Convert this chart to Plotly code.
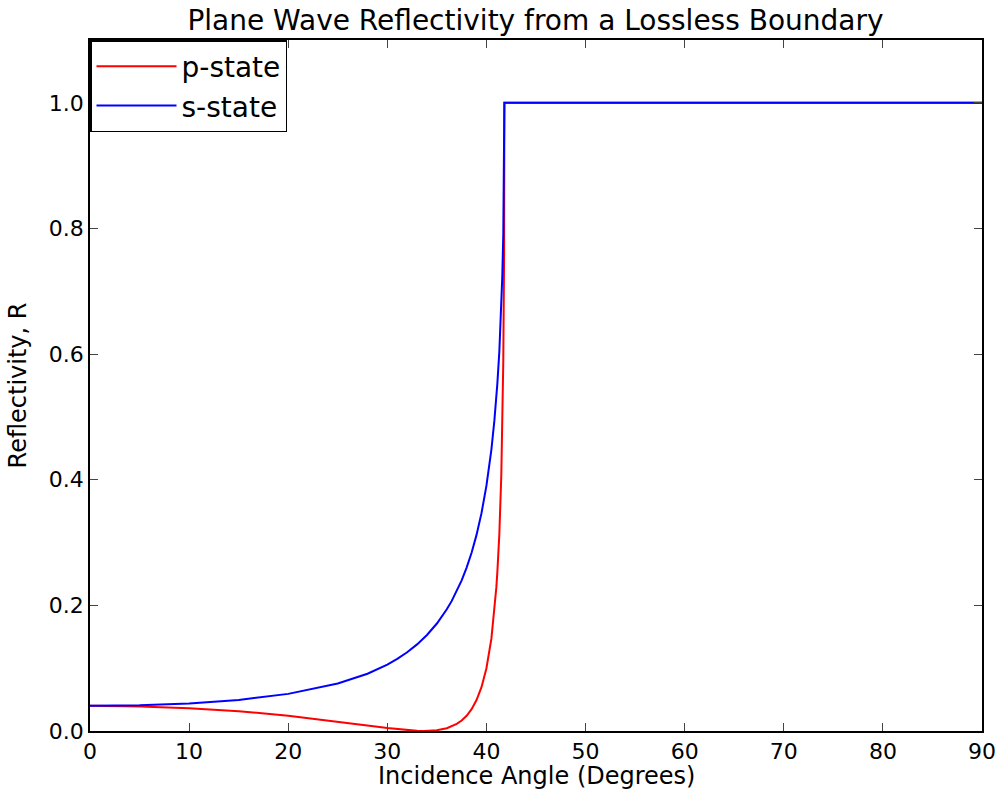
import plotly.graph_objects as go

# incidence angle (degrees)
angle = [0, 5, 10, 15, 20, 25, 28, 29, 30, 31, 32, 33, 33.7, 34, 35, 36, 36.5, 37, 37.5,
         38, 38.5, 39, 39.5, 40, 40.5, 40.8, 41, 41.1, 41.3, 41.5, 41.6, 41.7, 41.78,
         41.81, 42, 50, 60, 70, 80, 90]

r_p = [0.040, 0.0391, 0.0363, 0.0315, 0.0244, 0.0151, 0.0087, 0.0066, 0.0046, 0.0028,
       0.0013, 0.0002, 0.0, 0.0001, 0.0012, 0.0045, 0.0073, 0.0113, 0.0168,
       0.0243, 0.0347, 0.0492, 0.0698, 0.100, 0.147, 0.190, 0.229, 0.253, 0.313, 0.408,
       0.480, 0.589, 0.758,
       1.0, 1.0, 1.0, 1.0, 1.0, 1.0, 1.0]

r_s = [0.040, 0.0409, 0.0439, 0.0495, 0.0591, 0.0755, 0.0912, 0.098, 0.1058, 0.1148,
       0.1254, 0.1379, 0.1479, 0.1529, 0.1711, 0.1937, 0.2071, 0.2223, 0.2398,
       0.2601, 0.2838, 0.3122, 0.3468, 0.3905, 0.448, 0.494, 0.531, 0.553, 0.604, 0.675,
       0.724, 0.791, 0.884,
       1.0, 1.0, 1.0, 1.0, 1.0, 1.0, 1.0]

fig = go.Figure()
fig.add_trace(go.Scatter(x = angle, y = r_p, mode = 'lines', name = 'p-state', legendgroup = 'p',
                         line = dict(color = 'red', width = 2)))
fig.add_trace(go.Scatter(x = angle, y = r_s, mode = 'lines', name = 's-state', legendgroup = 's',
                         line = dict(color = 'blue', width = 2)))

fig.update_layout(
    width = 1002,
    height = 792,
    margin = dict(l = 90, r = 20, t = 40, b = 61),
    font = dict(family = 'DejaVu Sans', color = 'black', size = 20),
    title = dict(text = 'Plane Wave Reflectivity from a Lossless Boundary',
                 x = 0.5344, xanchor = 'center', y = 0.975, yanchor = 'middle',
                 font = dict(size = 28)),
    yaxis_title = 'Reflectivity, R',
    plot_bgcolor = 'white',
    paper_bgcolor = 'white',
    legend = dict(x = 0, y = 1, xanchor = 'left', yanchor = 'top',
                  bordercolor = 'black', borderwidth = 1.5, bgcolor = 'white',
                  font = dict(size = 28), tracegroupgap = 0, itemwidth = 80)
)

# x title as an annotation so it sits below the tick labels with fixed margins
fig.add_annotation(text = 'Incidence Angle (Degrees)', xref = 'paper', yref = 'paper',
                   x = 0.5, y = -0.065, xanchor = 'center', yanchor = 'middle',
                   showarrow = False, font = dict(size = 24))

fig.update_xaxes(
    range = [0, 90],
    dtick = 10,
    tickfont = dict(size = 22),
    ticklabeloverflow = 'allow',
    mirror = 'allticks',
    ticks = 'inside',
    ticklen = 8,
    showline = True,
    linecolor = 'black',
    linewidth = 1.5,
    showgrid = False,
    zeroline = False,
    automargin = False
)
fig.update_yaxes(
    range = [0, 1.1],
    tickvals = [0, 0.2, 0.4, 0.6, 0.8, 1.0],
    tickformat = '.1f',
    tickfont = dict(size = 22),
    mirror = 'allticks',
    ticks = 'inside',
    ticklen = 8,
    showline = True,
    linecolor = 'black',
    linewidth = 1.5,
    showgrid = False,
    zeroline = False,
    automargin = False
)

# drop the default body margin so the figure fills the window exactly
fig.write_html('out.html', config = dict(displayModeBar = False),
               post_script = "document.body.style.margin = '0'; document.body.style.overflow = 'hidden';")
